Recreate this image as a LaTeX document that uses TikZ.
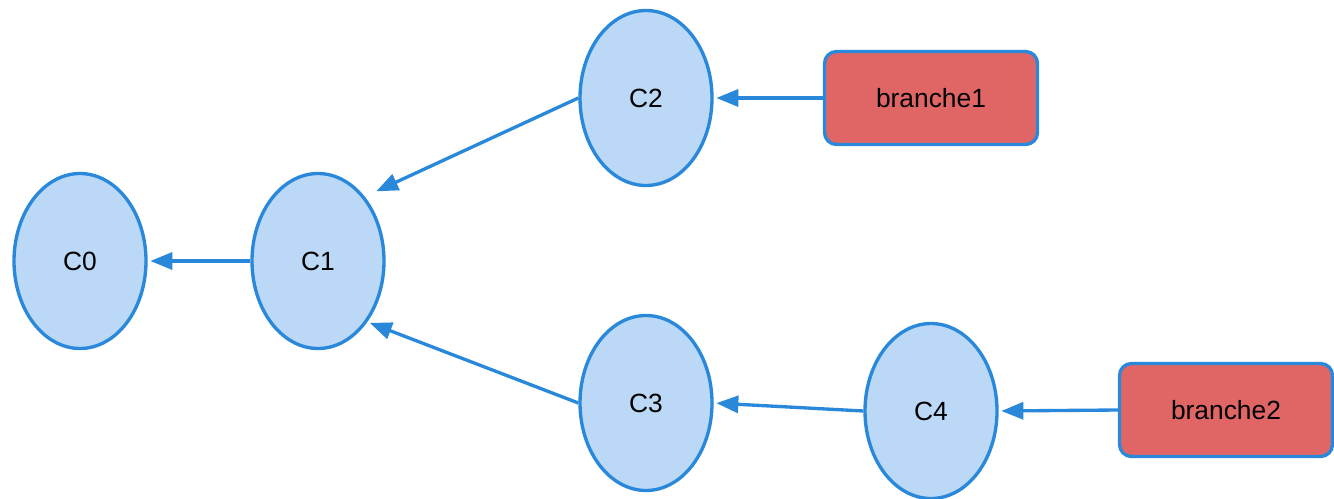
\documentclass[tikz,border=0pt]{standalone}
\usepackage{fontspec}
\setmainfont{Liberation Sans}
\usetikzlibrary{shapes,arrows.meta,positioning,calc}
\definecolor{commitblue}{RGB}{42,136,218}
\definecolor{commitfill}{RGB}{187,216,246}
\definecolor{branchred}{RGB}{224,102,102}

\begin{document}
\begin{tikzpicture}[
    commit/.style={draw=commitblue, fill=commitfill, ellipse, line width=1.9pt, inner sep=0pt, minimum width=2.64cm, minimum height=3.5cm, font=\fontsize{15}{18}\selectfont},
    branch/.style={draw=commitblue, fill=branchred, rectangle, rounded corners=0.24cm, line width=1.9pt, minimum width=4.26cm, minimum height=1.86cm, font=\fontsize{15}{18}\selectfont},
    link/.style={commitblue, line width=1.9pt, -{Triangle[length=0.44cm, width=0.34cm]}, shorten >=1.5pt}
  ]
				\useasboundingbox (0,0) rectangle (26.68,-9.96);
				
				% Commits
				\node[commit] (c0) at (1.60,-5.22) {C0};
				\node[commit] (c1) at (6.36,-5.22) {C1};
				\node[commit] (c2) at (12.92,-1.96) {C2};
				\node[commit] (c3) at (12.92,-8.06) {C3};
				\node[commit] (c4) at (18.62,-8.22) {C4};
				
				% Branches
				\node[branch] (branche1) at (18.62,-1.96) {branche1};
				\node[branch] (branche2) at (24.52,-8.20) {branche2};
				
				% Parent links
				\draw[link] (c1.west) -- (c0.east);
				\draw[link, shorten >=0.25cm] (c2.west) -- (c1.54);
				\draw[link] (c3.west) -- (c1.-51);
				\draw[link] (c4.west) -- (c3.east);
				
				% Branch heads
				\draw[link] (branche1.west) -- (c2.east);
				\draw[link] (branche2.west) -- (c4.east);
			\end{tikzpicture}
\end{document}
